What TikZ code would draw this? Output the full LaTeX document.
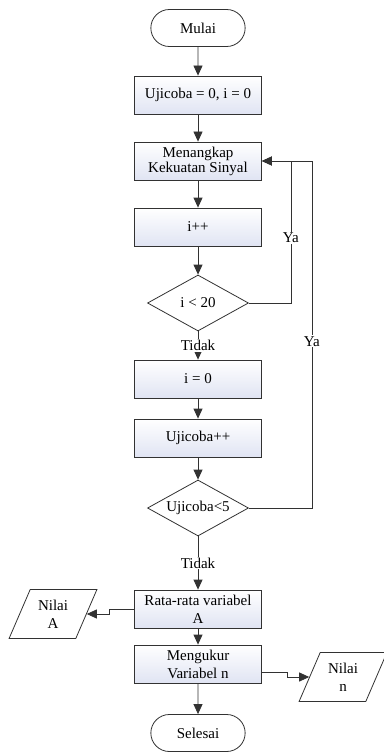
\documentclass[tikz,border=0pt]{standalone}
\usepackage{fontspec}
\setmainfont{Liberation Serif}
\usepackage{xcolor}
\usetikzlibrary{shapes,arrows.meta,positioning}

\definecolor{boxbot}{RGB}{224,228,243}
\definecolor{garis}{RGB}{50,50,50}

\tikzset{
    every node/.style={font=\fontsize{15}{18}\selectfont},
    proses/.style={draw=garis, line width=0.8pt, top color=white, bottom color=boxbot,
        minimum width=127pt, minimum height=38pt, align=center, inner sep=2pt},
    terminal/.style={draw=garis, line width=0.8pt, rounded rectangle, fill=white,
        minimum width=101pt, minimum height=37pt},
    keputusan/.style={draw=garis, line width=0.8pt, diamond, aspect=1.8, inner sep=0pt,
        fill=white, minimum width=101pt, minimum height=56pt},
    data/.style={draw=garis, line width=0.8pt, trapezium, trapezium left angle=64,
        trapezium right angle=116, trapezium stretches=true, align=center,
        minimum width=88pt, minimum height=49pt, inner sep=1pt},
    panah/.style={draw=garis, line width=0.8pt, -{Triangle[length=10pt,width=9pt]}},
    lbl/.style={fill=white, inner sep=1pt}
}

\begin{document}
\begin{tikzpicture}[x=1pt, y=-1pt]
    \useasboundingbox (0,0) rectangle (383,754);

    % Main column
    \node [terminal] (mulai) at (198,28) {Mulai};
    \node [proses] (init) at (198,95) {Ujicoba = 0, i = 0};
    \node [proses] (tangkap) at (198,161) {Menangkap\\[-3pt]Kekuatan Sinyal};
    \node [proses] (tambah) at (198,227) {i++};
    \node [keputusan] (cekA) at (198,303) {i < 20};
    \node [proses] (reset) at (198,379) {i = 0};
    \node [proses] (coba) at (198,438) {Ujicoba++};
    \node [keputusan] (cekB) at (198,508) {Ujicoba<5};
    \node [proses] (rata) at (198,609) {Rata-rata variabel\\A};
    \node [proses] (ukur) at (198,664) {Mengukur\\Variabel n};
    \node [terminal] (selesai) at (198,733) {Selesai};

    % Outputs
    \node [data] (nilaiA) at (53,614) {Nilai\\A};
    \node [data] (nilaiN) at (343,677) {Nilai\\n};

    % Flow
    \draw [panah] (mulai) -- (init);
    \draw [panah] (init) -- (tangkap);
    \draw [panah] (tangkap) -- (tambah);
    \draw [panah] (tambah) -- (cekA);
    \draw [panah] (cekA) -- node [lbl] {Tidak} (reset);
    \draw [panah] (reset) -- (coba);
    \draw [panah] (coba) -- (cekB);
    \draw [panah] (cekB) -- node [lbl] {Tidak} (rata);
    \draw [panah] (rata) -- (ukur);
    \draw [panah] (ukur) -- (selesai);

    % Loops
    \draw [panah] (cekB.east) -- ++(63,0) |- node [lbl, pos=0.24] {Ya} (tangkap.east);
    \draw [panah] (cekA.east) -- ++(42,0) |- node [lbl, pos=0.23] {Ya} (tangkap.east);

    % Output links
    \draw [panah] (rata.west) -- ++(-25,0) |- (nilaiA.east);
    \draw [panah] ([yshift=-8pt]ukur.east) -- ++(25,0) |- (nilaiN.west);

\end{tikzpicture}
\end{document}
